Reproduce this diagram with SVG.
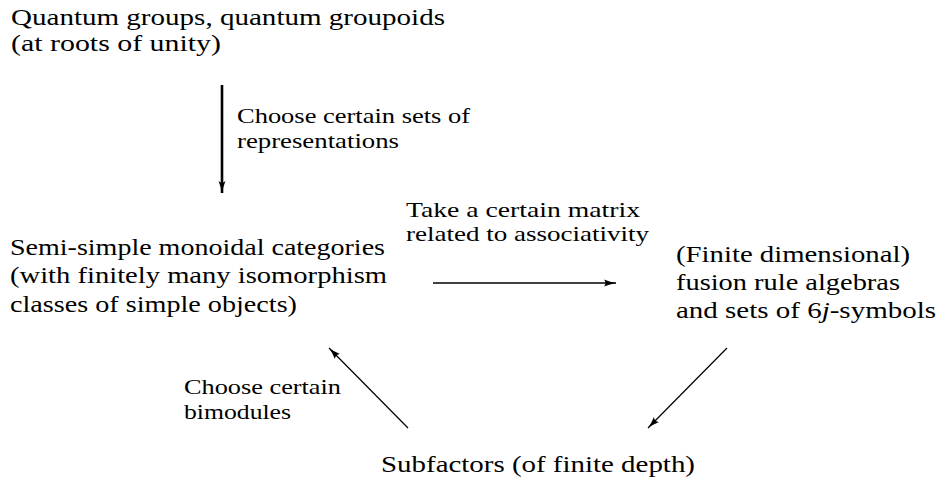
<svg xmlns="http://www.w3.org/2000/svg" width="943" height="489" viewBox="0 0 943 489">
<style>
text{font-family:"Liberation Serif","Times New Roman",serif;fill:#000}
.n{font-size:24px}
.l{font-size:21px}
.c{stroke:#000;fill:none}
</style>
<defs>
<marker id="ah" viewBox="0 0 12 8" refX="12" refY="4" markerWidth="12" markerHeight="8" markerUnits="userSpaceOnUse" orient="auto">
<path d="M0,0.5 Q6,3 12,4 Q6,5 0,7.5 Q3,4 0,0.5 Z" fill="#000"/>
</marker>
</defs>
<rect width="943" height="489" fill="#fff"/>
<g id="quantum" font-family="Liberation Serif, serif">
<text class="n" x="11" y="25" textLength="434" lengthAdjust="spacingAndGlyphs">Quantum groups, quantum groupoids</text>
<text class="n" x="11" y="50.5" textLength="210" lengthAdjust="spacingAndGlyphs">(at roots of unity)</text>
</g>
<g id="semisimple" font-family="Liberation Serif, serif">
<text class="n" x="10" y="255" textLength="375" lengthAdjust="spacingAndGlyphs">Semi-simple monoidal categories</text>
<text class="n" x="10" y="283.3" textLength="377" lengthAdjust="spacingAndGlyphs">(with finitely many isomorphism</text>
<text class="n" x="10" y="311.6" textLength="287" lengthAdjust="spacingAndGlyphs">classes of simple objects)</text>
</g>
<g id="fusion" font-family="Liberation Serif, serif">
<text class="n" x="676" y="262" textLength="234" lengthAdjust="spacingAndGlyphs">(Finite dimensional)</text>
<text class="n" x="676" y="290" textLength="224" lengthAdjust="spacingAndGlyphs">fusion rule algebras</text>
<text class="n" x="676" y="317.5" textLength="260" lengthAdjust="spacingAndGlyphs">and sets of 6<tspan font-style="italic">j</tspan>-symbols</text>
</g>
<g id="subfactors" font-family="Liberation Serif, serif">
<text class="n" x="381" y="472" textLength="314" lengthAdjust="spacingAndGlyphs">Subfactors (of finite depth)</text>
</g>
<g id="connectors" font-family="Liberation Serif, serif">
<line class="c" x1="222" y1="85" x2="222" y2="193" stroke-width="2.6" marker-end="url(#ah)"/>
<line class="c" x1="433" y1="283" x2="616" y2="283" stroke-width="1.5" marker-end="url(#ah)"/>
<line class="c" x1="408" y1="428" x2="329" y2="348" stroke-width="1.2" marker-end="url(#ah)"/>
<line class="c" x1="727" y1="348" x2="648" y2="428" stroke-width="1.2" marker-end="url(#ah)"/>
<text class="l" x="237" y="123" textLength="233" lengthAdjust="spacingAndGlyphs">Choose certain sets of</text>
<text class="l" x="237" y="147.5" textLength="162" lengthAdjust="spacingAndGlyphs">representations</text>
<text class="l" x="406" y="217" textLength="234" lengthAdjust="spacingAndGlyphs">Take a certain matrix</text>
<text class="l" x="406" y="241" textLength="243" lengthAdjust="spacingAndGlyphs">related to associativity</text>
<text class="l" x="184" y="394" textLength="157" lengthAdjust="spacingAndGlyphs">Choose certain</text>
<text class="l" x="184" y="419" textLength="107" lengthAdjust="spacingAndGlyphs">bimodules</text>
</g>
</svg>
